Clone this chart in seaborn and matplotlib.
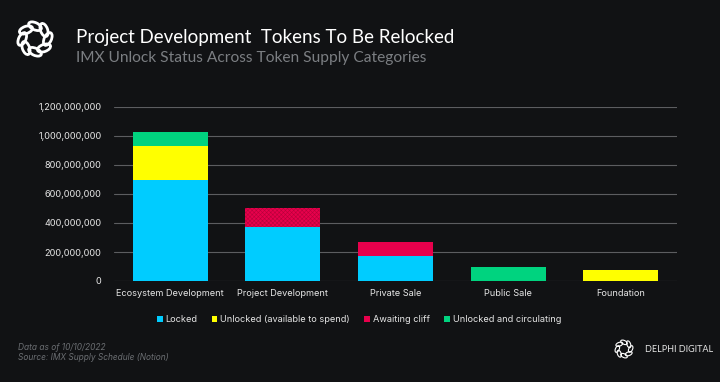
# IMX token unlock status by supply category - stacked bar chart

import matplotlib.pyplot as plt
import numpy as np
import pandas as pd
import seaborn as sns
from matplotlib.patches import Ellipse, Patch

categories = ["Ecosystem Development", "Project Development", "Private Sale", "Public Sale", "Foundation"]
locked = [697e6, 374e6, 170e6, 0, 0]
unlocked_spend = [234e6, 0, 0, 0, 78e6]
awaiting_cliff = [0, 127e6, 97e6, 0, 0]
circulating = [99e6, 0, 0, 100e6, 0]

series_names = ["Locked", "Unlocked (available to spend)", "Awaiting cliff", "Unlocked and circulating"]
series_colors = ["#00CCFF", "#FFFF00", "#E8004C", "#00D37F"]
y_ticks = [0, 200e6, 400e6, 600e6, 800e6, 1000e6, 1200e6]

BG = "#111214"
GRID = "#5c5d60"

sns.set_theme(style="dark")
plt.rcParams["font.family"] = ["Inter", "DejaVu Sans"]
plt.rcParams["hatch.linewidth"] = 0.4

df = pd.DataFrame({
    "category": categories,
    "locked": locked,
    "unlocked_spend": unlocked_spend,
    "awaiting_cliff": awaiting_cliff,
    "circulating": circulating,
})

# cumulative layers, drawn from the tallest down so each one covers the next
layers = np.cumsum(df[["locked", "unlocked_spend", "awaiting_cliff", "circulating"]].to_numpy(), axis=1)

fig = plt.figure(figsize=(7.2, 3.82), dpi=100, facecolor=BG)
ax = fig.add_axes([114 / 720, 1 - 281 / 382, 563 / 720, 174 / 382])
ax.set_facecolor(BG)

for i in range(3, -1, -1):
    sns.barplot(x=df["category"], y=layers[:, i], color=series_colors[i],
                width=0.665, saturation=1, linewidth=0, ax=ax)
    if i == 2:
        # fine hatch on the Project Development cliff portion
        bar = ax.patches[-4]
        bar.set_hatch("xxxxxxxx")
        bar.set_edgecolor("#B8003B")
        bar.set_linewidth(0)

ax.set_xlim(-0.5, 4.5)
ax.set_ylim(0, 1.2e9)
ax.set_yticks(y_ticks)
ax.set_yticklabels([f"{int(v):,}" for v in y_ticks])
ax.set_xlabel("")
ax.set_ylabel("")
ax.set_axisbelow(True)
ax.yaxis.grid(True, color=GRID, linewidth=0.8)
ax.xaxis.grid(False)
for s in ax.spines.values():
    s.set_visible(False)
ax.tick_params(axis="y", colors="#e6e6e6", labelsize=6.6, length=0, pad=9)
ax.tick_params(axis="x", colors="#e6e6e6", labelsize=6.6, length=0, pad=6)

# legend
handles = [Patch(facecolor=c, edgecolor="none") for c in series_colors]
fig.legend(handles, series_names, loc="center", bbox_to_anchor=(359 / 720, 1 - 320 / 382),
           ncol=4, frameon=False, fontsize=6.6, labelcolor="#e6e6e6",
           handlelength=0.6, handleheight=0.6, handletextpad=0.3, columnspacing=1.6)

# header
fig.text(76 / 720, 1 - 37 / 382, "Project Development  Tokens To Be Relocked", color="white",
         fontsize=13.5, family=["Lato", "DejaVu Sans"], va="center")
fig.text(76 / 720, 1 - 58 / 382, "IMX Unlock Status Across Token Supply Categories", color="#7b7e82",
         fontsize=11.2, family=["Lato", "DejaVu Sans"], va="center")

# footer
fig.text(18 / 720, 1 - 347 / 382, "Data as of 10/10/2022", color="#6b6e72", fontsize=6, style="italic", va="center")
fig.text(18 / 720, 1 - 358 / 382, "Source: IMX Supply Schedule (Notion)", color="#6b6e72", fontsize=6,
         style="italic", va="center")
fig.text(645 / 720, 1 - 349 / 382, "DELPHI DIGITAL", color="#e6e6e6", fontsize=6.5, va="center",
         family=["Lato", "DejaVu Sans"])


def draw_logo(rect, lw):
    # ring of interlaced loops approximating the Delphi mark
    lax = fig.add_axes(rect)
    lax.set_xlim(-1.35, 1.35)
    lax.set_ylim(-1.35, 1.35)
    lax.set_aspect("equal")
    lax.axis("off")
    for k in range(8):
        a = k * np.pi / 4
        lax.add_patch(Ellipse((0.75 * np.cos(a), 0.75 * np.sin(a)), 0.8, 0.42,
                              angle=np.degrees(a) + 65, fill=False, edgecolor="white", linewidth=lw))


draw_logo([12 / 720, 1 - 62 / 382, 46 / 720, 46 / 382], 2.0)
draw_logo([612 / 720, 1 - 361 / 382, 24 / 720, 24 / 382], 0.8)

fig.savefig("out.png", dpi=100, facecolor=BG)
